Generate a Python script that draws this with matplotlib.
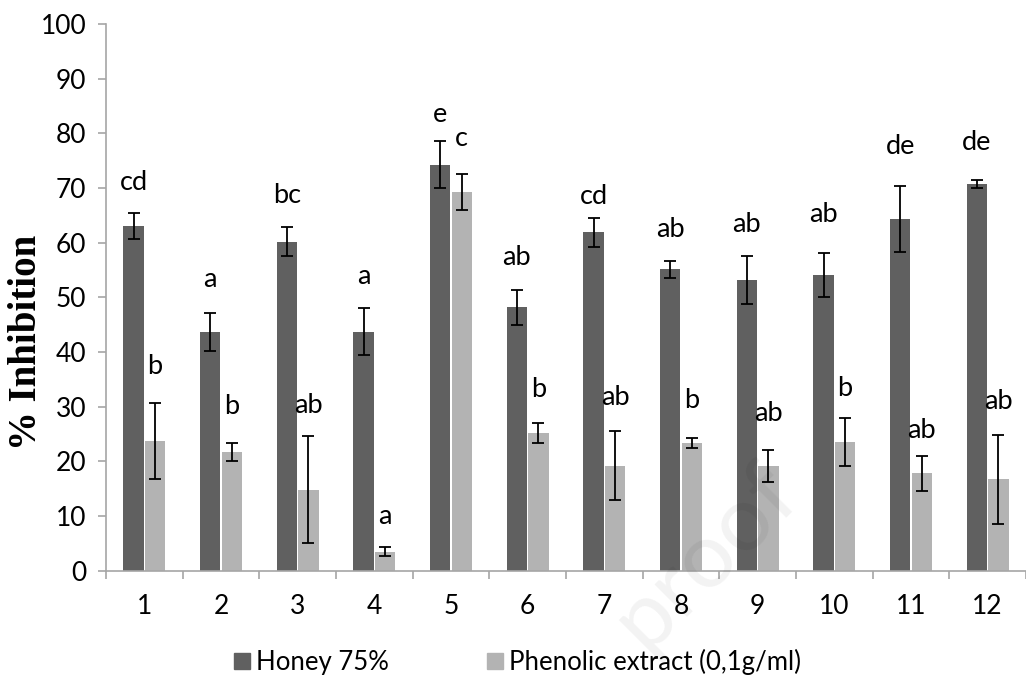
import matplotlib
matplotlib.use("Agg")
import matplotlib.pyplot as plt
from matplotlib.lines import Line2D
import numpy as np

categories = ["1", "2", "3", "4", "5", "6", "7", "8", "9", "10", "11", "12"]
honey = [63.1, 43.7, 60.2, 43.7, 74.3, 48.2, 61.9, 55.1, 53.2, 54.1, 64.4, 70.7]
honey_err = [2.35, 3.5, 2.65, 4.3, 4.3, 3.2, 2.6, 1.6, 4.35, 4.0, 6.05, 0.7]
phenolic = [23.7, 21.7, 14.8, 3.5, 69.3, 25.2, 19.2, 23.4, 19.15, 23.5, 17.8, 16.7]
phenolic_err = [7.0, 1.6, 9.8, 0.85, 3.3, 1.85, 6.35, 0.9, 3.0, 4.4, 3.2, 8.15]
honey_letters = ["cd", "a", "bc", "a", "e", "ab", "cd", "ab", "ab", "ab", "de", "de"]
honey_letter_y = [71.0, 53.2, 68.7, 53.8, 83.4, 57.2, 68.5, 62.5, 63.4, 65.2, 77.6, 78.3]
phenolic_letters = ["b", "b", "ab", "a", "c", "b", "ab", "b", "ab", "b", "ab", "ab"]
phenolic_letter_y = [37.3, 30.0, 30.3, 10.0, 79.0, 33.1, 31.6, 31.2, 28.8, 33.4, 25.6, 30.9]
series_names = ["Honey 75%", "Phenolic extract (0,1g/ml)"]

dark = "#606060"
light = "#b3b3b3"
axis_col = "#a6a6a6"
font = "Lato"

W, H = 1026, 687
fig = plt.figure(figsize=(W / 100, H / 100), dpi=100)
left_px, right_px, top_px, bot_px = 106, 1026, 24, 570.7
ax = fig.add_axes([left_px / W, (H - bot_px) / H, (right_px - left_px) / W, (bot_px - top_px) / H])

x = np.arange(1, len(categories) + 1)
bw = 0.265
off = 0.14
ax.bar(x - off, honey, bw, color=dark, zorder=2)
ax.bar(x + off, phenolic, bw, color=light, zorder=2)
ekw = dict(fmt="none", ecolor="black", elinewidth=1.3, capsize=4.5, capthick=1.3, zorder=3)
ax.errorbar(x - off, honey, yerr=honey_err, **ekw)
ax.errorbar(x + off, phenolic, yerr=phenolic_err, **ekw)

for xi, t, yv in zip(x - off, honey_letters, honey_letter_y):
    ax.text(xi, yv, t, ha="center", va="center", fontsize=19.5, family=font, color="black")
for xi, t, yv in zip(x + off, phenolic_letters, phenolic_letter_y):
    ax.text(xi, yv, t, ha="center", va="center", fontsize=19.5, family=font, color="black")

span = (right_px - left_px) / 77.1
ax.set_xlim(0.5, 0.5 + span)
ax.set_ylim(0, 100)
ax.set_yticks(np.arange(0, 101, 10))
ax.set_xticks(x)
ax.set_xticklabels(categories)
ax.set_xticks(np.arange(0.5, 12.6, 1.0), minor=True)
ax.tick_params(axis="x", which="major", length=0, pad=17, labelsize=19)
ax.tick_params(axis="x", which="minor", length=6, color=axis_col, width=1.2)
ax.tick_params(axis="y", length=6, color=axis_col, width=1.2, pad=8, labelsize=19)
for lab in ax.get_xticklabels() + ax.get_yticklabels():
    lab.set_family(font)
for s in ["top", "right"]:
    ax.spines[s].set_visible(False)
for s in ["left", "bottom"]:
    ax.spines[s].set_color(axis_col)
    ax.spines[s].set_linewidth(1.2)

ax.set_ylabel("% Inhibition", family="Liberation Serif", fontweight="bold", fontsize=28)
ax.yaxis.set_label_coords(-0.066, 0.418)

handles = [Line2D([], [], marker="s", linestyle="none", markersize=12, markerfacecolor=c, markeredgecolor=c)
           for c in (dark, light)]
leg = fig.legend(handles, series_names, loc="center", bbox_to_anchor=(0.502, 0.036), ncol=2, frameon=False,
                 prop={"family": font, "size": 18.5}, handletextpad=0.05, columnspacing=3.6, handlelength=1.0)

fig.text(0.687, 0.19, "proof", rotation=45, fontsize=66, family=font, color="black", alpha=0.05,
         ha="center", va="center", zorder=0)

fig.savefig("out.png", dpi=100)
